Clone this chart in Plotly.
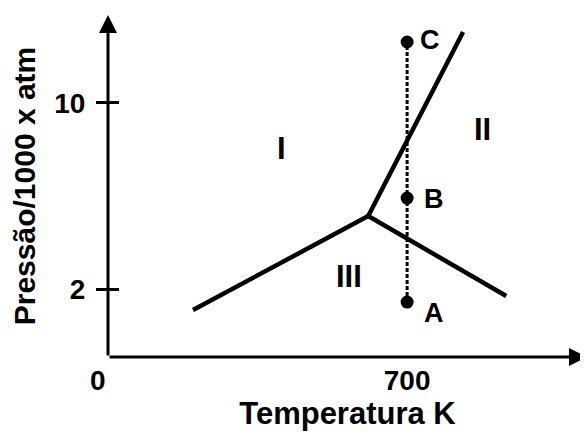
import plotly.graph_objects as go

# ---- data ----
# phase boundaries (Temperature K, Pressure/1000 atm)
left_T = [199, 609]
left_p = [1.10, 5.14]
right_T = [609, 932]
right_p = [5.14, 1.70]
upper_T = [609, 831]
upper_p = [5.14, 13.05]

# states A, B, C on the isotherm
pt_T = [700, 700, 700]
pt_p = [1.44, 5.91, 12.62]
pt_labels = ["A", "B", "C"]

# phase region labels
region_T = [407, 876, 564]
region_p = [8.06, 8.84, 2.52]
region_labels = ["I", "II", "III"]

x_ticks = [700]
y_ticks = [2, 10]

x_range = [0, 1121]
y_range = [-0.92, 13.78]

FONT = "Liberation Sans"
BLACK = "black"

fig = go.Figure()

for T, p in [(left_T, left_p), (right_T, right_p), (upper_T, upper_p)]:
    fig.add_trace(go.Scatter(x=T, y=p, mode="lines",
                             line=dict(color=BLACK, width=4.5),
                             showlegend=False, hoverinfo="skip"))

fig.add_trace(go.Scatter(x=[pt_T[0], pt_T[-1]], y=[pt_p[0], pt_p[-1]],
                         mode="lines", line=dict(color=BLACK, width=3, dash="4px,2px"),
                         showlegend=False, hoverinfo="skip"))
fig.add_trace(go.Scatter(x=pt_T, y=pt_p, mode="markers",
                         marker=dict(color=BLACK, size=13),
                         showlegend=False, hoverinfo="skip"))

# point labels
shifts = {"A": (27, -11), "B": (27, -1), "C": (23, 2)}
for T, p, lab in zip(pt_T, pt_p, pt_labels):
    dx, dy = shifts[lab]
    fig.add_annotation(x=T, y=p, text=lab, showarrow=False, xshift=dx, yshift=dy,
                       font=dict(family=FONT, size=27, color=BLACK, weight="bold"))

for T, p, lab in zip(region_T, region_p, region_labels):
    fig.add_annotation(x=T, y=p, text=lab, showarrow=False,
                       font=dict(family=FONT, size=31, color=BLACK, weight="bold"))

# axes with arrows
fig.add_annotation(x=0, y=y_range[1], ax=0, ay=y_range[0], xref="x", yref="y",
                   axref="x", ayref="y", text="", showarrow=True,
                   arrowhead=2, arrowsize=1.2, arrowwidth=3, arrowcolor=BLACK)
fig.add_annotation(x=x_range[1], y=y_range[0], ax=0, ay=y_range[0], xref="x", yref="y",
                   axref="x", ayref="y", text="", showarrow=True,
                   arrowhead=2, arrowsize=1.2, arrowwidth=3, arrowcolor=BLACK)

# origin label
fig.add_annotation(x=0, y=y_range[0], text="0", showarrow=False, xshift=-10, yshift=-23,
                   font=dict(family=FONT, size=28, color=BLACK, weight="bold"))

# the page body adds an 8px offset, so margins are shifted to compensate
fig.update_layout(
    width=588, height=439,
    margin=dict(l=100, r=9, t=7, b=90, autoexpand=False),
    paper_bgcolor="white", plot_bgcolor="white",
    xaxis=dict(range=x_range, tickvals=x_ticks, ticktext=[str(v) for v in x_ticks],
               showgrid=False, zeroline=False, showline=False, ticks="",
               automargin=False, ticklabelstandoff=4,
               tickfont=dict(family=FONT, size=28, color=BLACK, weight="bold"),
               title=dict(text="Temperatura K", standoff=6,
                          font=dict(family=FONT, size=31, color=BLACK, weight="bold"))),
    yaxis=dict(range=y_range, tickvals=y_ticks, ticktext=[str(v) for v in y_ticks],
               showgrid=False, zeroline=False, showline=False,
               ticks="outside", ticklen=11, tickwidth=3, tickcolor=BLACK,
               automargin=False, ticklabelstandoff=5,
               tickfont=dict(family=FONT, size=28, color=BLACK, weight="bold"),
               title=dict(text="Pressão/1000 x atm", standoff=11,
                          font=dict(family=FONT, size=30, color=BLACK, weight="bold"))),
    yaxis2=dict(range=y_range, overlaying="y", tickvals=y_ticks, showticklabels=False,
                showgrid=False, zeroline=False, showline=False,
                ticks="inside", ticklen=11, tickwidth=3, tickcolor=BLACK),
)
# dummy trace for yaxis2 so the inside ticks render
fig.add_trace(go.Scatter(x=[None], y=[None], yaxis="y2", showlegend=False, hoverinfo="skip"))

fig.write_html("out.html")
